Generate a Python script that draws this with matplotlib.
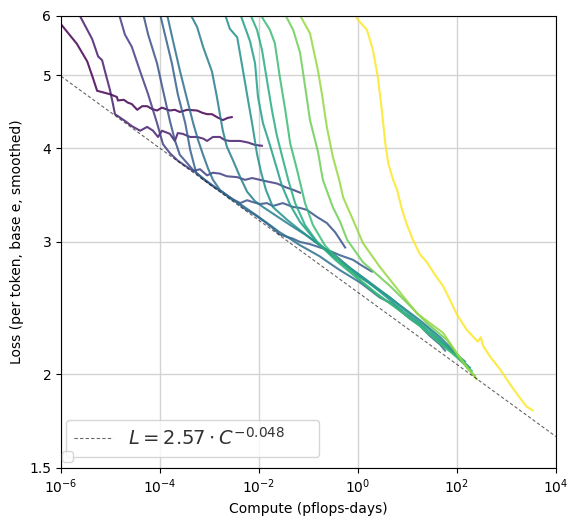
import numpy as np
import matplotlib
matplotlib.use("Agg")
import matplotlib.pyplot as plt
from matplotlib.ticker import FixedLocator, NullLocator, FixedFormatter

# ---- data: log10(compute, pflops-days) and smoothed loss, one pair per model ----
c1_logc = [-6.00, -5.68, -5.47, -5.35, -5.27, -5.01, -4.87, -4.85, -4.73, -4.65, -4.57, -4.46, -4.36, -4.26,
           -4.16, -4.06, -3.96, -3.80, -3.70, -3.60, -3.45, -3.25, -3.15, -3.05, -2.95, -2.85, -2.73, -2.63, -2.55]
c1_loss = [5.85, 5.51, 5.22, 4.95, 4.77, 4.72, 4.68, 4.63, 4.64, 4.60, 4.58, 4.50, 4.55, 4.55,
           4.51, 4.49, 4.53, 4.49, 4.50, 4.47, 4.50, 4.49, 4.46, 4.44, 4.44, 4.40, 4.36, 4.39, 4.40]

c2_logc = [-5.64, -5.37, -5.25, -5.17, -5.11, -5.01, -4.95, -4.91, -4.71, -4.57, -4.40, -4.26, -4.14, -4.04, -3.96,
           -3.80, -3.70, -3.64, -3.54, -3.39, -3.25, -3.13, -3.05, -2.93, -2.79, -2.69, -2.59, -2.38, -2.22, -2.08, -1.94]
c2_loss = [6.04, 5.59, 5.30, 5.24, 5.06, 4.78, 4.58, 4.44, 4.35, 4.28, 4.22, 4.27, 4.22, 4.14, 4.22,
           4.18, 4.09, 4.19, 4.18, 4.14, 4.14, 4.12, 4.09, 4.14, 4.14, 4.10, 4.09, 4.09, 4.07, 4.04, 4.03]

c3_logc = [-4.83, -4.71, -4.57, -4.40, -4.24, -4.06, -3.94, -3.80, -3.64, -3.49, -3.33, -3.19, -3.05, -2.93,
           -2.79, -2.65, -2.44, -2.28, -2.14, -1.98, -1.82, -1.64, -1.47, -1.31, -1.17]
c3_loss = [6.04, 5.67, 5.46, 5.06, 4.72, 4.32, 4.05, 3.94, 3.85, 3.79, 3.73, 3.75, 3.68, 3.71,
           3.70, 3.67, 3.66, 3.63, 3.65, 3.63, 3.61, 3.59, 3.55, 3.52, 3.49]

c4_logc = [-4.34, -4.24, -4.06, -3.94, -3.80, -3.70, -3.60, -3.45, -3.33, -3.13, -2.93, -2.73, -2.53, -2.38,
           -2.24, -2.12, -1.98, -1.84, -1.72, -1.52, -1.31, -1.17, -1.03, -0.83, -0.63, -0.46, -0.36, -0.26]
c4_loss = [6.04, 5.67, 5.19, 4.78, 4.35, 4.10, 3.92, 3.82, 3.74, 3.64, 3.56, 3.49, 3.42, 3.38,
           3.41, 3.39, 3.37, 3.38, 3.35, 3.38, 3.34, 3.33, 3.31, 3.24, 3.18, 3.09, 3.02, 2.95]

c5_logc = [-4.00, -3.90, -3.76, -3.64, -3.49, -3.39, -3.27, -3.09, -2.89, -2.69, -2.48, -2.28, -2.08, -1.88,
           -1.72, -1.58, -1.31, -1.17, -0.97, -0.77, -0.63, -0.36, -0.10, 0.08, 0.28]
c5_loss = [6.04, 5.67, 5.19, 4.72, 4.32, 3.98, 3.71, 3.63, 3.55, 3.48, 3.40, 3.32, 3.26, 3.19,
           3.13, 3.07, 3.03, 3.00, 2.98, 2.95, 2.93, 2.88, 2.84, 2.79, 2.74]

c6_logc = [-3.86, -3.74, -3.60, -3.45, -3.33, -3.23, -3.13, -3.03, -2.93, -2.79, -2.59, -2.38, -2.18, -1.98,
           -1.78, -1.58, -1.37, -1.17, -0.97, -0.77, -0.57, -0.36, -0.16, 0.04, 0.24, 0.44, 0.65, 0.85,
           1.05, 1.25, 1.45, 1.66, 1.76]
c6_loss = [6.04, 5.57, 5.08, 4.64, 4.32, 4.10, 3.92, 3.76, 3.63, 3.52, 3.43, 3.37, 3.30, 3.23,
           3.16, 3.09, 3.03, 2.97, 2.92, 2.87, 2.81, 2.75, 2.70, 2.65, 2.59, 2.53, 2.49, 2.43,
           2.37, 2.32, 2.25, 2.19, 2.15]

c7_logc = [-3.39, -3.25, -3.13, -2.95, -2.85, -2.79, -2.73, -2.65, -2.53, -2.38, -2.24, -2.08, -1.92,
           -1.68, -1.37, -1.07, -0.77, -0.46, -0.16, 0.14, 0.44, 0.85, 1.25, 1.66, 2.02]
c7_loss = [6.04, 5.80, 5.46, 5.06, 4.68, 4.44, 4.22, 4.02, 3.86, 3.66, 3.50, 3.40, 3.34,
           3.26, 3.16, 3.07, 2.97, 2.88, 2.77, 2.68, 2.59, 2.47, 2.36, 2.24, 2.12]

c8_logc = [-2.69, -2.59, -2.44, -2.32, -2.22, -2.14, -2.04, -1.96, -1.86, -1.72, -1.43, -1.17, -0.83,
           -0.57, -0.10, 0.24, 0.59, 0.95, 1.25, 1.66, 2.06, 2.26]
c8_loss = [6.04, 5.77, 5.62, 5.06, 4.63, 4.32, 3.93, 3.72, 3.52, 3.34, 3.21, 3.11, 2.99,
           2.90, 2.73, 2.64, 2.53, 2.41, 2.33, 2.21, 2.10, 2.04]

c9_logc = [-2.38, -2.18, -2.08, -2.02, -1.92, -1.78, -1.66, -1.54, -1.37, -1.17, -0.87, -0.53, -0.16,
           0.24, 0.65, 1.05, 1.45, 1.86, 2.16]
c9_loss = [6.04, 5.55, 5.19, 4.68, 4.32, 4.04, 3.80, 3.57, 3.36, 3.19, 3.02, 2.88, 2.77,
           2.64, 2.53, 2.40, 2.29, 2.16, 2.08]

c10_logc = [-2.18, -2.04, -1.94, -1.84, -1.74, -1.64, -1.54, -1.41, -1.27, -1.07, -0.81, -0.46, -0.06,
            0.34, 0.75, 1.15, 1.56, 1.96, 2.22]
c10_loss = [6.04, 5.75, 5.41, 4.93, 4.50, 4.16, 3.92, 3.63, 3.38, 3.16, 2.99, 2.84, 2.70,
            2.57, 2.46, 2.35, 2.23, 2.12, 2.04]

c11_logc = [-1.98, -1.78, -1.68, -1.58, -1.47, -1.37, -1.23, -1.07, -0.91, -0.67, -0.36, 0.04, 0.44,
            0.85, 1.25, 1.66, 2.06, 2.30]
c11_loss = [6.04, 5.75, 5.52, 4.98, 4.50, 4.06, 3.74, 3.38, 3.16, 2.97, 2.82, 2.67, 2.54,
            2.43, 2.32, 2.20, 2.09, 2.02]

c12_logc = [-1.52, -1.31, -1.17, -1.07, -0.97, -0.81, -0.71, -0.51, -0.36, -0.22, 0.10, 0.65, 0.99,
            1.39, 1.80, 2.20, 2.36]
c12_loss = [6.11, 5.75, 5.36, 4.84, 4.36, 3.96, 3.63, 3.34, 3.19, 3.02, 2.82, 2.62, 2.49,
            2.34, 2.22, 2.04, 1.99]

c13_logc = [-1.23, -0.97, -0.81, -0.73, -0.63, -0.51, -0.38, -0.30, -0.10, 0.10, 0.44, 0.85, 1.19,
            1.72, 2.00, 2.26, 2.40]
c13_loss = [6.11, 5.69, 5.08, 4.73, 4.27, 3.90, 3.63, 3.44, 3.21, 2.99, 2.78, 2.57, 2.41,
            2.27, 2.13, 2.02, 1.97]

c14_logc = [-0.08, 0.00, 0.18, 0.30, 0.40, 0.48, 0.55, 0.61, 0.71, 0.79, 0.89, 0.99, 1.11, 1.25,
            1.39, 1.56, 1.72, 1.86, 2.00, 2.20, 2.42, 2.48, 2.53, 2.67, 2.87, 3.07, 3.27, 3.41, 3.53]
c14_loss = [6.04, 5.93, 5.75, 5.41, 4.98, 4.50, 4.07, 3.82, 3.63, 3.52, 3.31, 3.16, 3.02, 2.89,
            2.82, 2.71, 2.62, 2.51, 2.40, 2.29, 2.21, 2.24, 2.18, 2.11, 2.03, 1.94, 1.86, 1.81, 1.79]

curves_logc = [c1_logc, c2_logc, c3_logc, c4_logc, c5_logc, c6_logc, c7_logc,
               c8_logc, c9_logc, c10_logc, c11_logc, c12_logc, c13_logc, c14_logc]
curves_loss = [c1_loss, c2_loss, c3_loss, c4_loss, c5_loss, c6_loss, c7_loss,
               c8_loss, c9_loss, c10_loss, c11_loss, c12_loss, c13_loss, c14_loss]
color_pos = [0.0, 0.08, 0.18, 0.25, 0.30, 0.36, 0.42, 0.50, 0.56, 0.62, 0.68, 0.78, 0.84, 1.0]

fit_coef = 2.57
fit_exp = -0.048
fit_range = [1e-6, 1e4]

x_ticks = [1e-6, 1e-4, 1e-2, 1e0, 1e2, 1e4]
x_labels = [r"$10^{-6}$", r"$10^{-4}$", r"$10^{-2}$", r"$10^{0}$", r"$10^{2}$", r"$10^{4}$"]
y_ticks = [1.5, 2, 3, 4, 5, 6]
y_labels = ["1.5", "2", "3", "4", "5", "6"]

# ---- figure ----
fig = plt.figure(figsize=(5.77, 5.26), dpi=100)
ax = fig.add_axes([0.1057, 0.1103, 0.8579, 0.8593])

cmap = plt.get_cmap("viridis")
for lc, ls, cp in zip(curves_logc, curves_loss, color_pos):
    ax.plot(10 ** np.array(lc), ls, color=cmap(cp), lw=1.5, alpha=0.85)

fx = np.array(fit_range)
fit_label = r"$L = %.2f \cdot C^{%.3f}$" % (fit_coef, fit_exp) + "\u00a0" * 5
ax.plot(fx, fit_coef * fx ** fit_exp, ls="--", color="k", lw=0.8, alpha=0.6,
        dashes=(3, 2), label=fit_label)

ax.set_xscale("log")
ax.set_yscale("log")
ax.set_xlim(1e-6, 1e4)
ax.set_ylim(1.5, 6)

ax.xaxis.set_major_locator(FixedLocator(x_ticks))
ax.xaxis.set_major_formatter(FixedFormatter(x_labels))
ax.xaxis.set_minor_locator(NullLocator())
ax.yaxis.set_major_locator(FixedLocator(y_ticks))
ax.yaxis.set_major_formatter(FixedFormatter(y_labels))
ax.yaxis.set_minor_locator(NullLocator())

ax.grid(True, which="major", color="#d3d3d3", lw=1.0)
ax.set_axisbelow(True)

ax.set_xlabel("Compute (pflops-days)")
ax.set_ylabel("Loss (per token, base e, smoothed)")

leg1 = ax.legend(loc="lower left", fontsize=14, labelcolor="#333333",
                 bbox_to_anchor=(0.0101, 0.0243), borderaxespad=0.0)
ax.add_artist(leg1)
ax.legend(handles=[], loc="lower left", bbox_to_anchor=(0.002, 0.013), borderaxespad=0.0)

fig.savefig("out.png", dpi=100)
